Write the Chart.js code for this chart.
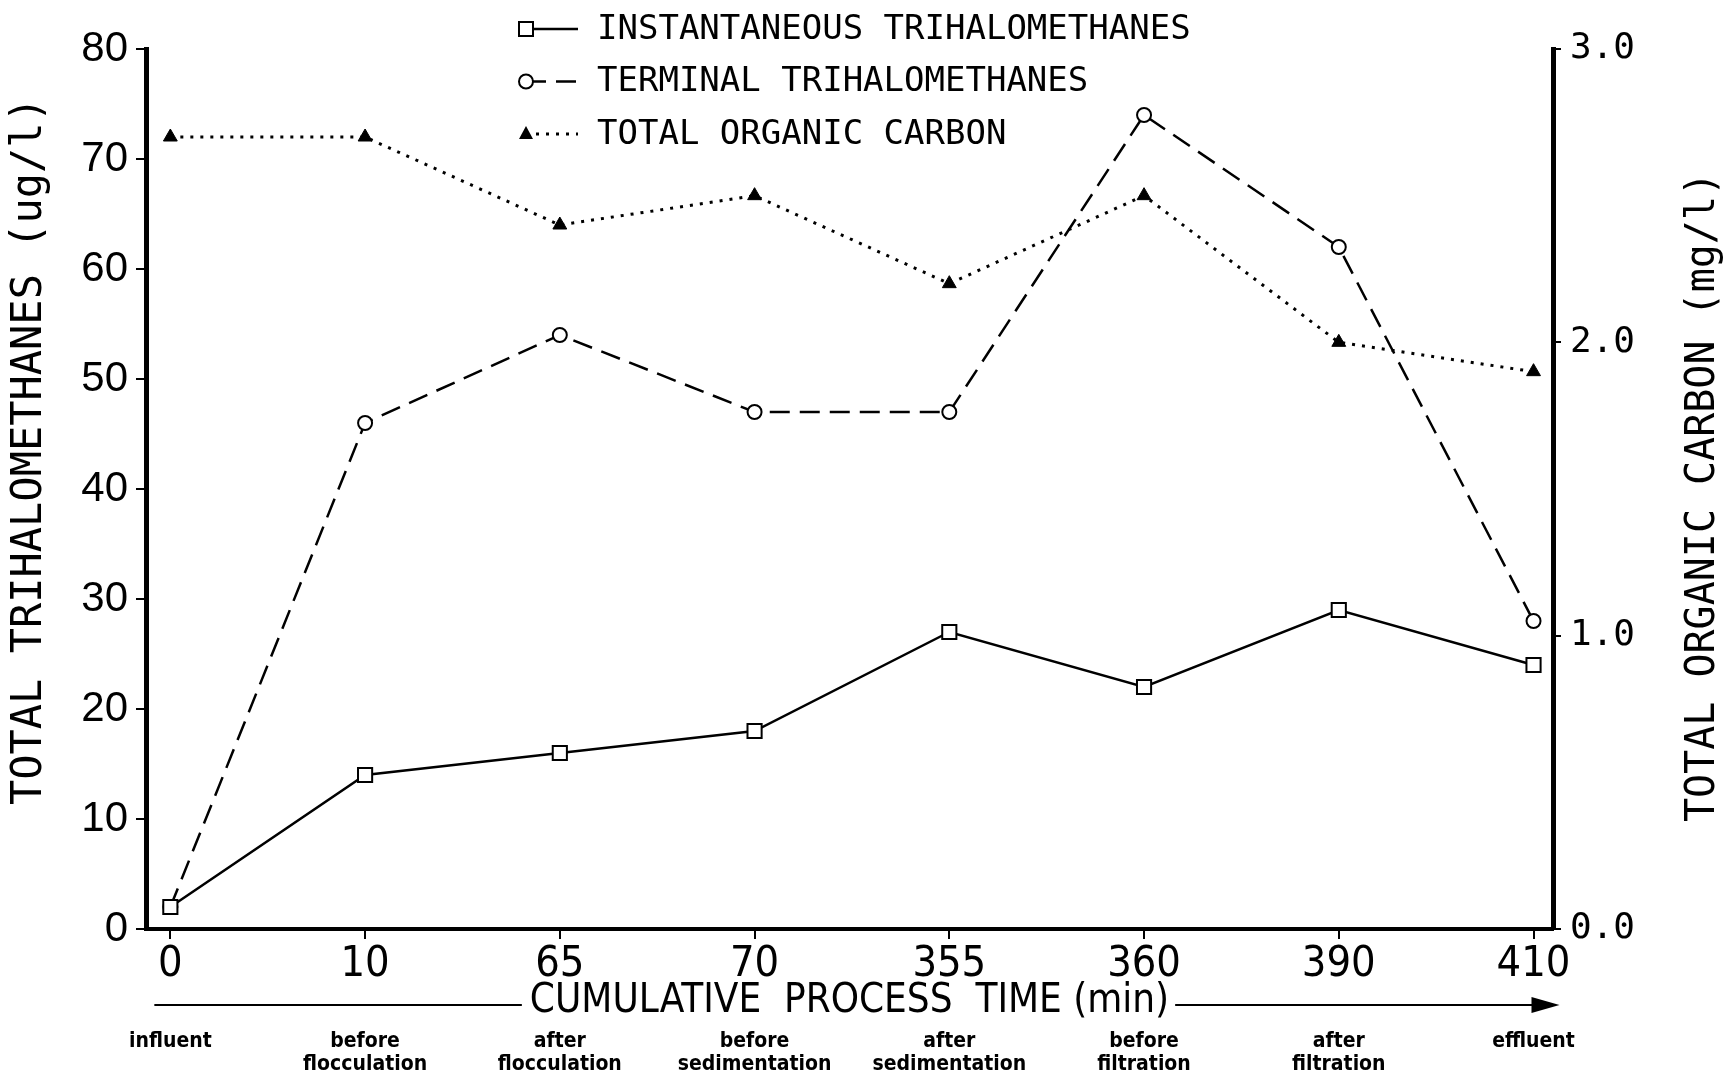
<!DOCTYPE html>
<html>
<head>
<meta charset="utf-8">
<title>Trihalomethanes and total organic carbon through the plant</title>
<script src="https://cdn.jsdelivr.net/npm/chart.js"></script>
<style>
  html, body { margin: 0; padding: 0; background: #ffffff; }
  canvas { display: block; }
</style>
</head>
<body>
<canvas id="thmChart" width="1724" height="1077"></canvas>
<script>
// Sampling points along the treatment train (cumulative process time in minutes).
const timeLabels = ['0', '10', '65', '70', '355', '360', '390', '410'];
const stageLabels = [
    ['influent'],
    ['before', 'flocculation'],
    ['after', 'flocculation'],
    ['before', 'sedimentation'],
    ['after', 'sedimentation'],
    ['before', 'filtration'],
    ['after', 'filtration'],
    ['effluent']
];

// Values.
const instantTHM = [2, 14, 16, 18, 27, 22, 29, 24];          // ug/l
const terminalTHM = [2, 46, 54, 47, 47, 74, 62, 28];         // ug/l
const organicCarbon = [2.7, 2.7, 2.4, 2.5, 2.2, 2.5, 2.0, 1.9]; // mg/l

const seriesNames = ['INSTANTANEOUS TRIHALOMETHANES', 'TERMINAL TRIHALOMETHANES', 'TOTAL ORGANIC CARBON'];
const rightAxisTitle = 'TOTAL ORGANIC CARBON (mg/l)';

// Fonts that come closest to the old plotter lettering.
const plotterFont = "'DejaVu Sans Mono', 'Liberation Mono', monospace";
const narrowFont = "'Liberation Sans Narrow', 'DejaVu Sans Condensed', 'Liberation Sans', sans-serif";

// The x axis is the index of the sampling point, so each stage sits evenly spaced like in the paper.
const toPoints = values => values.map((v, i) => ({ x: i, y: v }));
const indexTicks = scale => { scale.ticks = timeLabels.map((_, i) => ({ value: i })); };

// I draw the stacked legend, the right axis title (it reads bottom-up like the left one)
// and the long "time" arrow myself, since the built-in pieces can't do this layout.
const paperExtras = {
    id: 'paperExtras',
    afterDraw(chart) {
        const ctx = chart.ctx;
        const xs = chart.scales.x;
        const y1 = chart.scales.y1;
        ctx.save();
        ctx.strokeStyle = '#000';
        ctx.fillStyle = '#000';

        // arrow split by the axis title
        const titleOpts = chart.options.scales.x.title;
        ctx.font = '40px ' + narrowFont;
        const tw = ctx.measureText(titleOpts.text).width;
        const mid = (xs.left + xs.right) / 2;
        const ay = xs.bottom - 40 / 2 - titleOpts.padding.bottom + 3;
        const startX = xs.getPixelForValue(0) - 16;
        const endX = xs.getPixelForValue(timeLabels.length - 1);
        ctx.lineWidth = 2;
        ctx.beginPath();
        ctx.moveTo(startX, ay);
        ctx.lineTo(mid - tw / 2 - 8, ay);
        ctx.moveTo(mid + tw / 2 + 6, ay);
        ctx.lineTo(endX, ay);
        ctx.stroke();
        ctx.beginPath();
        ctx.moveTo(endX - 2, ay - 8);
        ctx.lineTo(endX + 26, ay);
        ctx.lineTo(endX - 2, ay + 8);
        ctx.closePath();
        ctx.fill();

        // right axis title, rotated to read upwards
        ctx.save();
        ctx.font = '40px ' + plotterFont;
        ctx.textAlign = 'center';
        ctx.textBaseline = 'middle';
        ctx.translate(y1.right - 20, (y1.top + y1.bottom) / 2 + 8);
        ctx.rotate(-Math.PI / 2);
        ctx.fillText(rightAxisTitle, 0, 0);
        ctx.restore();

        // legend, one row per series
        const lx = 526, ly = 29, rowGap = 52.5;
        ctx.font = '34px ' + plotterFont;
        ctx.textBaseline = 'middle';
        ctx.textAlign = 'left';
        chart.data.datasets.forEach((ds, k) => {
            const y = ly + k * rowGap;
            ctx.lineWidth = ds.borderWidth;
            ctx.setLineDash(ds.borderDash || []);
            ctx.beginPath();
            ctx.moveTo(lx, y);
            ctx.lineTo(lx + 52, y);
            ctx.stroke();
            ctx.setLineDash([]);
            ctx.lineWidth = 2;
            ctx.beginPath();
            if (ds.pointStyle === 'rect') {
                ctx.rect(lx - 7, y - 7, 14, 14);
                ctx.fillStyle = '#fff';
                ctx.fill();
                ctx.stroke();
            } else if (ds.pointStyle === 'circle') {
                ctx.arc(lx, y, 7, 0, Math.PI * 2);
                ctx.fillStyle = '#fff';
                ctx.fill();
                ctx.stroke();
            } else {
                ctx.moveTo(lx, y - 8);
                ctx.lineTo(lx + 7, y + 5);
                ctx.lineTo(lx - 7, y + 5);
                ctx.closePath();
                ctx.fillStyle = '#000';
                ctx.fill();
            }
            ctx.fillStyle = '#000';
            ctx.fillText(seriesNames[k], 597, y + 1);
        });
        ctx.restore();
    }
};

let ctx = document.getElementById('thmChart').getContext('2d');

let chart = new Chart(ctx, {
    type: 'line',
    data: {
        datasets: [{
            label: seriesNames[0],
            data: toPoints(instantTHM),
            yAxisID: 'y',
            borderColor: '#000',
            borderWidth: 2.5,
            pointStyle: 'rect',
            pointRadius: 10,
            pointBorderWidth: 2,
            pointBackgroundColor: '#fff',
            pointBorderColor: '#000',
            fill: false,
            tension: 0
        },
        {
            label: seriesNames[1],
            data: toPoints(terminalTHM),
            yAxisID: 'y',
            borderColor: '#000',
            borderWidth: 2.5,
            borderDash: [20, 10],
            pointStyle: 'circle',
            pointRadius: 7,
            pointBorderWidth: 2,
            pointBackgroundColor: '#fff',
            pointBorderColor: '#000',
            fill: false,
            tension: 0
        },
        {
            label: seriesNames[2],
            data: toPoints(organicCarbon),
            yAxisID: 'y1',
            borderColor: '#000',
            borderWidth: 3,
            borderDash: [3, 7],
            pointStyle: 'triangle',
            pointRadius: 8,
            pointBorderWidth: 1,
            pointBackgroundColor: '#000',
            pointBorderColor: '#000',
            fill: false,
            tension: 0
        }]
    },
    options: {
        responsive: false,
        animation: false,
        layout: { padding: { top: 49, left: 0, right: 0, bottom: 0 } },
        plugins: {
            legend: { display: false },
            tooltip: { enabled: false }
        },
        scales: {
            x: {
                type: 'linear',
                position: 'bottom',
                min: -0.125,
                max: 7.1,
                weight: 0,
                afterBuildTicks: indexTicks,
                afterFit: scale => { scale.height = 100; },
                border: { display: true, color: '#000', width: 4 },
                grid: { drawOnChartArea: false, color: '#000', lineWidth: 2, tickLength: 10 },
                ticks: {
                    autoSkip: false,
                    maxRotation: 0,
                    padding: 0,
                    color: '#000',
                    font: { family: narrowFont, size: 43, lineHeight: 1.2 },
                    callback: value => timeLabels[value]
                },
                title: {
                    display: true,
                    text: 'CUMULATIVE  PROCESS  TIME (min)',
                    color: '#000',
                    font: { family: narrowFont, size: 40, lineHeight: 1 },
                    padding: { top: 0, bottom: 7 }
                }
            },
            x2: {
                type: 'linear',
                position: 'bottom',
                min: -0.125,
                max: 7.1,
                weight: 1,
                afterBuildTicks: indexTicks,
                afterFit: scale => { scale.height = 48; },
                border: { display: false },
                grid: { display: false, drawTicks: false },
                ticks: {
                    autoSkip: false,
                    maxRotation: 0,
                    padding: 1,
                    color: '#000',
                    font: { family: narrowFont, size: 21, weight: 'bold', lineHeight: 1.1 },
                    callback: value => stageLabels[value]
                }
            },
            y: {
                position: 'left',
                min: 0,
                max: 80,
                afterFit: scale => { scale.width = 146; },
                border: { display: true, color: '#000', width: 5 },
                grid: { drawOnChartArea: false, color: '#000', lineWidth: 2, tickLength: 10 },
                ticks: {
                    stepSize: 10,
                    padding: 8,
                    color: '#000',
                    font: { family: "'Liberation Sans', Arial, sans-serif", size: 42 }
                },
                title: {
                    display: true,
                    text: '\u00a0\u00a0\u00a0TOTAL TRIHALOMETHANES (ug/l)',
                    color: '#000',
                    font: { family: plotterFont, size: 42, lineHeight: 1 },
                    padding: { top: 9, bottom: 0 }
                }
            },
            y1: {
                position: 'right',
                min: 0,
                max: 3,
                afterFit: scale => { scale.width = 171; },
                border: { display: true, color: '#000', width: 5 },
                grid: { drawOnChartArea: false, color: '#000', lineWidth: 2, tickLength: 8 },
                ticks: {
                    stepSize: 1,
                    padding: 9,
                    color: '#000',
                    font: { family: plotterFont, size: 36 },
                    callback: value => value.toFixed(1)
                }
            }
        }
    },
    plugins: [paperExtras]
});
</script>
</body>
</html>
